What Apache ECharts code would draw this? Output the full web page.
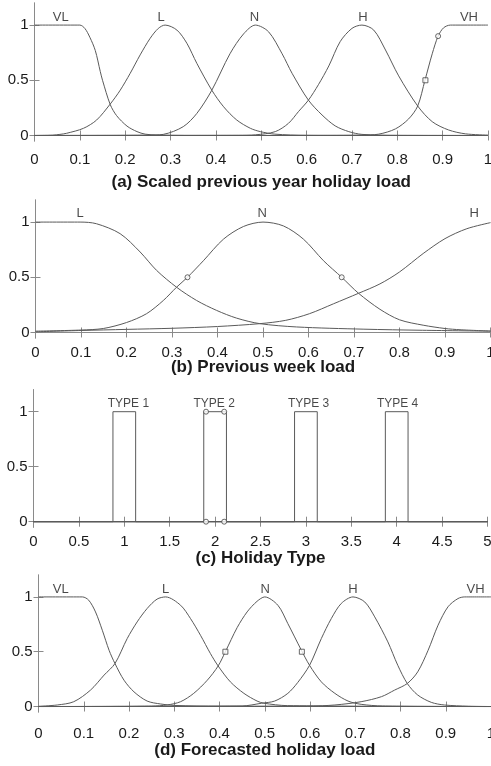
<!DOCTYPE html>
<html>
<head>
<meta charset="utf-8">
<script src="https://cdn.jsdelivr.net/npm/echarts@6/dist/echarts.min.js"></script>
<style>
html,body{margin:0;padding:0;background:#ffffff;}
#c{width:491px;height:766px;}
</style>
</head>
<body>
<div id="c"></div>
<script>
// ---------------- data ----------------
const yTickValues = [0, 0.5, 1];

// (a) Scaled previous year holiday load
const aTitle = '(a) Scaled previous year holiday load';
const aVL = [[0,1],[0.1,1],[0.111,0.97],[0.122,0.89],[0.134,0.77],[0.145,0.58],[0.15,0.5],[0.167,0.28],[0.181,0.18],[0.204,0.085],[0.226,0.035],[0.244,0.012],[0.27,0.004],[0.35,0],[1,0]];
const aL = [[0,0],[0.04,0.003],[0.056,0.01],[0.071,0.02],[0.108,0.065],[0.137,0.14],[0.167,0.285],[0.189,0.41],[0.211,0.563],[0.233,0.73],[0.255,0.88],[0.273,0.97],[0.288,1],[0.314,0.955],[0.336,0.835],[0.358,0.653],[0.391,0.41],[0.417,0.26],[0.446,0.14],[0.476,0.065],[0.498,0.035],[0.53,0.012],[0.6,0.002],[1,0]];
const aN = [[0,0],[0.25,0.003],[0.284,0.01],[0.328,0.08],[0.358,0.2],[0.391,0.41],[0.431,0.74],[0.461,0.92],[0.487,1],[0.516,0.94],[0.546,0.74],[0.568,0.563],[0.604,0.32],[0.634,0.186],[0.663,0.087],[0.693,0.035],[0.722,0.01],[0.8,0.001],[1,0]];
const aH = [[0,0],[0.45,0.002],[0.487,0.006],[0.531,0.035],[0.56,0.11],[0.582,0.216],[0.604,0.32],[0.626,0.46],[0.649,0.63],[0.674,0.85],[0.7,0.97],[0.722,1],[0.748,0.955],[0.774,0.774],[0.803,0.54],[0.845,0.267],[0.877,0.125],[0.913,0.05],[0.95,0.015],[1,0.003]];
const aVH = [[0,0],[0.6,0],[0.72,0.003],[0.759,0.012],[0.796,0.06],[0.825,0.15],[0.845,0.267],[0.861,0.5],[0.877,0.74],[0.89,0.9],[0.902,0.975],[0.917,1],[1,1]];
const aSquares = [[0.862,0.5]];
const aCircles = [[0.89,0.9]];
const aNames = ['VL','L','N','H','VH'];
const aNameX = [0.058,0.279,0.485,0.724,0.958];
const aNameY = 1.07;

// (b) Previous week load
const bTitle = '(b) Previous week load';
const bL = [[0,1],[0.098,1],[0.134,0.985],[0.186,0.895],[0.23,0.729],[0.266,0.563],[0.31,0.41],[0.354,0.29],[0.398,0.2],[0.442,0.13],[0.493,0.08],[0.574,0.05],[0.72,0.03],[0.85,0.02],[1,0.012]];
const bN = [[0,0.012],[0.1,0.022],[0.149,0.036],[0.2,0.09],[0.244,0.17],[0.281,0.29],[0.31,0.41],[0.334,0.5],[0.369,0.65],[0.413,0.845],[0.457,0.96],[0.5,1],[0.545,0.965],[0.589,0.845],[0.633,0.65],[0.673,0.5],[0.71,0.355],[0.757,0.21],[0.8,0.115],[0.852,0.066],[0.9,0.036],[0.933,0.025],[1,0.013]];
const bH = [[0,0.006],[0.1,0.018],[0.2,0.028],[0.3,0.038],[0.4,0.054],[0.493,0.08],[0.55,0.11],[0.602,0.17],[0.655,0.26],[0.71,0.355],[0.757,0.44],[0.8,0.548],[0.852,0.715],[0.9,0.85],[0.948,0.94],[1,0.995]];
const bCircles = [[0.334,0.5],[0.673,0.5]];
const bNames = ['L','N','H'];
const bNameX = [0.098,0.498,0.964];
const bNameY = 1.08;

// (c) Holiday Type
const cTitle = '(c) Holiday Type';
const cT1 = [[0,0],[0.875,0],[0.875,1],[1.125,1],[1.125,0],[5,0]];
const cT2 = [[0,0],[1.875,0],[1.875,1],[2.125,1],[2.125,0],[5,0]];
const cT3 = [[0,0],[2.875,0],[2.875,1],[3.125,1],[3.125,0],[5,0]];
const cT4 = [[0,0],[3.875,0],[3.875,1],[4.125,1],[4.125,0],[5,0]];
const cCircles = [[1.9,1],[2.1,1],[1.9,0],[2.1,0]];
const cNames = ['TYPE 1','TYPE 2','TYPE 3','TYPE 4'];
const cNameX = [1.045,1.99,3.03,4.01];
const cNameY = 1.076;

// (d) Forecasted holiday load
const dTitle = '(d) Forecasted holiday load';
const dVL = [[0,1],[0.097,1],[0.111,0.97],[0.126,0.863],[0.141,0.696],[0.156,0.513],[0.169,0.392],[0.189,0.24],[0.211,0.134],[0.24,0.05],[0.27,0.023],[0.3,0.01],[0.4,0.002],[1,0]];
const dL = [[0,0.002],[0.0415,0.014],[0.078,0.044],[0.115,0.15],[0.145,0.287],[0.169,0.392],[0.196,0.62],[0.218,0.772],[0.24,0.894],[0.262,0.98],[0.281,1],[0.314,0.924],[0.336,0.802],[0.358,0.65],[0.38,0.483],[0.397,0.37],[0.424,0.225],[0.454,0.12],[0.483,0.05],[0.498,0.03],[0.55,0.008],[1,0]];
const dN = [[0,0],[0.25,0.004],[0.284,0.014],[0.314,0.044],[0.343,0.12],[0.373,0.24],[0.397,0.37],[0.413,0.5],[0.439,0.72],[0.461,0.863],[0.483,0.96],[0.5,1],[0.529,0.924],[0.551,0.757],[0.581,0.513],[0.599,0.376],[0.625,0.225],[0.655,0.12],[0.684,0.05],[0.713,0.02],[0.76,0.005],[1,0]];
const dH = [[0,0],[0.45,0.005],[0.493,0.03],[0.522,0.05],[0.551,0.12],[0.573,0.22],[0.599,0.376],[0.625,0.62],[0.647,0.802],[0.669,0.94],[0.695,1],[0.721,0.954],[0.743,0.818],[0.772,0.59],[0.794,0.376],[0.815,0.21],[0.838,0.105],[0.868,0.038],[0.897,0.014],[0.95,0.003],[1,0]];
const dVH = [[0,0],[0.6,0.004],[0.655,0.014],[0.713,0.044],[0.758,0.09],[0.787,0.15],[0.815,0.21],[0.838,0.316],[0.861,0.513],[0.883,0.742],[0.905,0.91],[0.927,0.985],[0.942,1],[1,1]];
const dSquares = [[0.413,0.5],[0.582,0.5]];
const dNames = ['VL','L','N','H','VH'];
const dNameX = [0.049,0.281,0.501,0.695,0.966];
const dNameY = 1.07;

// ---------------- layout / style ----------------
const FONT = 'Liberation Sans, Arial, Helvetica, sans-serif';
const FRAME = '#8a8a8a';
const CURVE = '#5a5a5a';
const TEXT = '#1a1a1a';

const panels = [
  {grid:{left:34.5,right:3,top:3,height:138}, xmax:1, xint:0.1, lblMargin:11, title:aTitle, gap:33},
  {grid:{left:35.5,right:0.5,top:200,height:138}, xmax:1, xint:0.1, lblMargin:7, title:bTitle, gap:21},
  {grid:{left:33.5,right:3.5,top:389.7,height:137.5}, xmax:5, xint:0.5, lblMargin:7, title:cTitle, gap:23},
  {grid:{left:38.5,right:0,top:575,height:137}, xmax:1, xint:0.1, lblMargin:14, title:dTitle, gap:30}
];

const grids = [], xAxes = [], yAxes = [], series = [];
const axisLine = {show:true, lineStyle:{color:FRAME, width:1}};
const axisTick = {show:true, inside:true, length:5, lineStyle:{color:FRAME, width:1}};

panels.forEach((p, i) => {
  grids.push(Object.assign({containLabel:false, outerBoundsMode:'none'}, p.grid));
  // bottom x
  xAxes.push({
    type:'value', gridIndex:i, position:'bottom', min:0, max:p.xmax, interval:p.xint,
    axisLine, axisTick, splitLine:{show:false},
    axisLabel:{show:true, margin:p.lblMargin, fontSize:15, color:TEXT, fontFamily:FONT, showMinLabel:true, showMaxLabel:true, hideOverlap:false},
    name:p.title, nameLocation:'middle', nameGap:p.gap, nameMoveOverlap:false,
    nameTextStyle:{fontSize:17, fontWeight:'bold', color:TEXT, fontFamily:FONT}
  });
  // top x
  xAxes.push({
    type:'value', gridIndex:i, position:'top', min:0, max:p.xmax, interval:p.xint,
    axisLine, axisTick, splitLine:{show:false}, axisLabel:{show:false}
  });
  // left y
  yAxes.push({
    type:'value', gridIndex:i, position:'left', min:-0.05, max:1.2,
    axisLine, splitLine:{show:false},
    axisTick:Object.assign({customValues:yTickValues}, axisTick),
    axisLabel:{show:true, customValues:yTickValues, margin:6, fontSize:15, color:TEXT, fontFamily:FONT}
  });
  // right y
  yAxes.push({
    type:'value', gridIndex:i, position:'right', min:-0.05, max:1.2,
    axisLine, splitLine:{show:false},
    axisTick:Object.assign({customValues:yTickValues}, axisTick),
    axisLabel:{show:false}
  });
});

function curve(i, data, smooth) {
  series.push({
    type:'line', xAxisIndex:2*i, yAxisIndex:2*i, data:data,
    showSymbol:false, symbol:'none', smooth:smooth, silent:true,
    lineStyle:{color:CURVE, width:1}, z:2
  });
}
function markers(i, data, symbol) {
  series.push({
    type:'scatter', xAxisIndex:2*i, yAxisIndex:2*i, data:data,
    symbol:symbol, symbolSize:5, silent:true,
    itemStyle:{color:'#ffffff', borderColor:'#444', borderWidth:1}, z:5
  });
}
function names(i, labels, xs, y, size) {
  series.push({
    type:'scatter', xAxisIndex:2*i, yAxisIndex:2*i,
    data:labels.map((t, k) => ({name:t, value:[xs[k], y]})),
    symbolSize:1, silent:true, itemStyle:{color:'rgba(0,0,0,0)'},
    label:{show:true, position:'inside', formatter:'{b}', fontSize:size, color:TEXT, fontFamily:FONT},
    z:6
  });
}

[aVL, aL, aN, aH, aVH].forEach(d => curve(0, d, 0.3));
markers(0, aSquares, 'rect');
markers(0, aCircles, 'circle');
names(0, aNames, aNameX, aNameY, 13);

[bL, bN, bH].forEach(d => curve(1, d, 0.3));
markers(1, bCircles, 'circle');
names(1, bNames, bNameX, bNameY, 13);

[cT1, cT2, cT3, cT4].forEach(d => curve(2, d, false));
markers(2, cCircles, 'circle');
names(2, cNames, cNameX, cNameY, 12);

[dVL, dL, dN, dH, dVH].forEach(d => curve(3, d, 0.3));
markers(3, dSquares, 'rect');
names(3, dNames, dNameX, dNameY, 13);

const chart = echarts.init(document.getElementById('c'), null, {renderer:'canvas'});
chart.setOption({
  animation:false,
  backgroundColor:'#ffffff',
  grid:grids, xAxis:xAxes, yAxis:yAxes, series:series
});
</script>
</body>
</html>
